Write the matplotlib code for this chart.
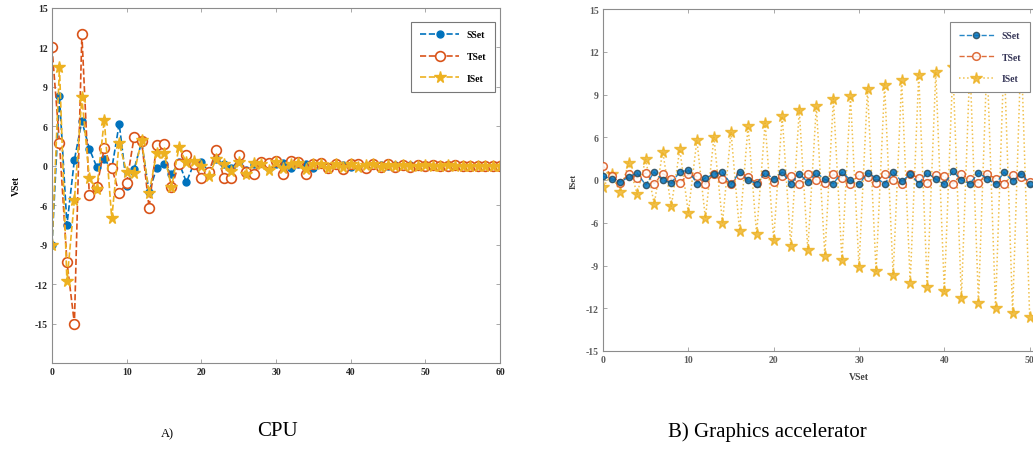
import numpy as np
import matplotlib
matplotlib.use("Agg")
import matplotlib.pyplot as plt

# ---- data ----
x_cpu = list(range(61))
sset_cpu = [-9.0, 8.3, -7.5, 0.9, 6.4, 2.6, -0.2, 1.0, -0.5, 6.2,
            -3.0, -0.5, 3.6, -4.0, -0.4, 0.2, -1.3, 0.5, -2.5, 0.3,
            0.5, -0.8, 1.0, 0.2, -0.4, 0.8, -0.6, 0.3, 0.5, -0.3,
            0.2, 0.4, -0.4, 0.3, 0.2, -0.3, 0.3, -0.2, 0.2, 0.1,
            -0.2, 0.2, -0.1, 0.1, 0.1, -0.1, 0.1, -0.1, 0.1, 0.0,
            -0.1, 0.1, 0.0, 0.0, 0.1, -0.1, 0.0, 0.0, 0.0, 0.0, 0.0]
tset_cpu = [12.0, 3.5, -10.3, -15.0, 13.0, -4.5, -3.3, 2.7, -0.3, -4.2,
            -2.6, 4.4, 3.8, -6.2, 3.2, 3.3, -3.3, 0.3, 1.7, 0.3,
            -1.8, -1.0, 2.4, -1.8, -1.8, 1.7, -1.0, -1.2, 0.5, 0.4,
            0.8, -1.2, 0.8, 0.6, -1.2, 0.3, 0.4, -0.3, 0.2, -0.5,
            0.3, 0.2, -0.4, 0.3, -0.2, 0.2, -0.2, 0.1, -0.2, 0.1,
            -0.1, 0.1, -0.1, 0.0, 0.1, -0.1, 0.0, 0.0, 0.0, 0.0, 0.0]
iset_cpu = [-9.0, 10.5, -11.8, -5.2, 8.2, -1.8, -3.6, 6.5, -7.0, 3.5,
            -1.0, -1.1, 3.9, -4.2, 1.9, 2.0, -3.3, 2.8, 0.5, 0.8,
            0.0, -1.5, 1.0, 0.2, -0.8, 0.6, -1.2, 0.4, 0.2, -0.6,
            0.5, -0.4, 0.3, 0.4, -0.5, 0.2, 0.3, -0.3, 0.2, -0.2,
            0.3, -0.2, 0.1, 0.2, -0.2, 0.1, -0.1, 0.1, 0.0, -0.1,
            0.1, 0.0, -0.1, 0.1, 0.0, 0.0, 0.0, 0.0, 0.0, 0.0, 0.0]

x_gpu = list(range(51))
sset_gpu = [0.5, 0.2, -0.3, 0.4, 1.0, -0.7, 1.1, 0.0, -0.4, 1.1,
            1.4, -0.5, 0.3, 0.8, 1.1, -0.6, 1.1, 0.0, -0.5, 1.0,
            0.2, 1.1, -0.6, 0.9, -0.3, 1.0, 0.1, -0.5, 1.1, 0.0,
            -0.6, 1.0, 0.3, -0.5, 1.1, -0.2, 0.8, -0.5, 1.0, 0.1,
            -0.6, 1.2, 0.0, -0.5, 1.0, 0.2, -0.6, 1.1, -0.2, 0.9, -0.5]
tset_gpu = [2.0, 0.6, -0.4, 0.8, 0.3, 1.0, -0.5, 0.9, 0.2, -0.4,
            0.8, 0.5, -0.6, 0.9, 0.1, -0.5, 0.7, 0.4, -0.4, 0.8,
            -0.3, 0.6, 0.5, -0.5, 0.9, 0.0, -0.4, 0.8, 0.3, -0.5,
            0.7, 0.4, -0.4, 0.9, 0.0, -0.5, 0.8, 0.3, -0.4, 0.7,
            0.5, -0.5, 0.8, 0.1, -0.4, 0.9, 0.2, -0.5, 0.7, 0.4, -0.3]
iset_gpu = [-1.0, 0.8, -1.7, 2.4, -2.0, 2.9, -3.4, 4.0, -3.7, 4.3,
            -4.6, 5.6, -5.4, 6.0, -6.0, 6.4, -6.6, 6.8, -6.8, 7.0,
            -7.2, 7.5, -7.6, 7.9, -7.9, 8.2, -8.3, 8.7, -8.6, 8.9,
            -9.1, 9.4, -9.4, 9.7, -9.7, 10.0, -10.2, 10.4, -10.5, 10.6,
            -10.8, 10.9, -11.3, 11.2, -11.6, 11.5, -12.0, 11.8, -12.3, 12.3, -12.6]

series_names = ["SSet", "TSet", "ISet"]
y_tick_labels = [15, 12, 9, 6, 0, -6, -9, -12, -15]
x_ticks = [0, 10, 20, 30, 40, 50, 60]

C_S = "#0072BD"
C_T = "#D95319"
C_I = "#EDB120"

# the printed y labels are evenly spaced although their values are not,
# so the axis uses a piecewise-linear scale through those labels
_lab = np.array([-30, -18, -15, -12, -9, -6, 0, 6, 9, 12, 15, 30], dtype=float)
_pos = np.array([-5, -1, 0, 1, 2, 3, 4, 5, 6, 7, 8, 13], dtype=float)


def fwd(v):
    return np.interp(v, _lab, _pos)


def inv(p):
    return np.interp(p, _pos, _lab)


plt.rcParams["font.family"] = ["Liberation Serif", "DejaVu Serif"]

fig = plt.figure(figsize=(10.33, 4.52), dpi=100)
W, H = 1033.0, 452.0


def style_axes(ax, ylim, tick_alpha=1.0):
    ax.set_yscale("function", functions=(fwd, inv))
    ax.set_xlim(0, 60)
    ax.set_ylim(*ylim)
    ax.set_xticks(x_ticks)
    ax.set_yticks(y_tick_labels)
    ax.set_yticklabels([str(v) for v in y_tick_labels])
    ax.minorticks_off()
    ax.tick_params(direction="in", top=True, right=True, length=3,
                   width=0.6, color="#9a9a9a", labelsize=7, pad=3,
                   labelcolor=(0.15, 0.15, 0.15, tick_alpha))
    for lab in ax.get_xticklabels() + ax.get_yticklabels():
        lab.set_fontweight("bold")
    for sp in ax.spines.values():
        sp.set_color("#8c8c8c")
        sp.set_linewidth(0.8)


# ---- A) CPU ----
ax1 = fig.add_axes([52 / W, 1 - 364 / H, 448 / W, 355 / H])
ax1.plot(x_cpu, sset_cpu, "--", color=C_S, lw=1.2, marker="o", ms=5,
         mfc=C_S, mec=C_S, label=series_names[0])
ax1.plot(x_cpu, tset_cpu, "--", color=C_T, lw=1.2, marker="o", ms=7,
         mfc="white", mec=C_T, mew=1.2, label=series_names[1])
ax1.plot(x_cpu, iset_cpu, "--", color=C_I, lw=1.2, marker="*", ms=8.5,
         mfc=C_I, mec=C_I, label=series_names[2])
style_axes(ax1, (-18, 15))
ax1.set_ylabel("VSet", fontsize=7, fontweight="bold", labelpad=10)
leg1 = ax1.legend(loc="upper right", bbox_to_anchor=(1.0, 0.975),
                  handlelength=4, labelspacing=1.3,
                  borderpad=0.9, fancybox=False, edgecolor="#555555",
                  prop={"weight": "bold", "size": 7})
leg1.get_frame().set_linewidth(0.8)

# ---- B) Graphics accelerator ----
ax2 = fig.add_axes([603 / W, 1 - 352 / H, 512 / W, 342 / H])
ax2.plot(x_gpu, iset_gpu, ":", color=C_I, lw=1.1, marker="*", ms=8.5,
         mfc=C_I, mec=C_I, alpha=0.8, label=series_names[2], zorder=2)
ax2.plot(x_gpu, tset_gpu, "--", color=C_T, lw=1.0, marker="o", ms=5.5,
         mfc="white", mec=C_T, mew=1.1, alpha=0.85, label=series_names[1], zorder=3)
ax2.plot(x_gpu, sset_gpu, "--", color=C_S, lw=1.0, marker="o", ms=4.5,
         mfc=C_S, mec="#2a4a5a", alpha=0.85, label=series_names[0], zorder=4)
style_axes(ax2, (-15, 15), tick_alpha=0.75)
ax2.set_ylabel("ISet", fontsize=6.5, fontweight="bold", labelpad=6, alpha=0.75)
ax2.set_xlabel("VSet", fontsize=7, fontweight="bold", labelpad=6, alpha=0.75)
h, l = ax2.get_legend_handles_labels()
leg2 = ax2.legend(h[::-1], l[::-1], loc="upper left",
                  bbox_to_anchor=(0.668, 0.975), handlelength=3.6,
                  labelspacing=1.3, borderpad=0.9, fancybox=False,
                  edgecolor="#888888", framealpha=1,
                  prop={"weight": "bold", "size": 7})
leg2.get_frame().set_linewidth(0.8)
for t in leg2.get_texts():
    t.set_color("#333355")

# ---- captions ----
fig.text(167 / W, 1 - 434 / H, "A)", fontsize=9, ha="center", va="center")
fig.text(278 / W, 1 - 432 / H, "CPU", fontsize=15, ha="center", va="center")
fig.text(767 / W, 1 - 432 / H, "B) Graphics accelerator", fontsize=15,
         ha="center", va="center")

fig.savefig("out.png", dpi=100)
